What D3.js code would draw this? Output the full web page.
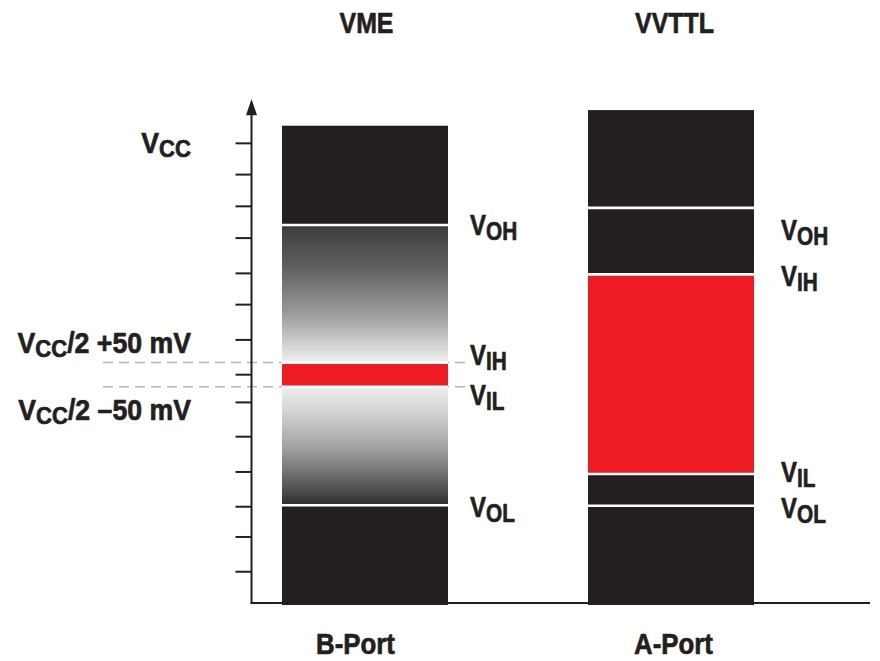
<!DOCTYPE html>
<html><head><meta charset="utf-8">
<script src="https://cdn.jsdelivr.net/npm/d3@7"></script>
<style>body{margin:0;background:#fff}svg{display:block}</style>
</head><body><svg id="c" width="880" height="661"></svg>
<script>
// ---- data ----
const ports = ["B-Port", "A-Port"];
const standards = ["VME", "VVTTL"];
const tickLevels = [91.3, 85.1, 78.8, 72.5, 65.5, 59.3, 52.3, 45.4, 39.9, 33.1, 26.1, 19.2, 13.2, 6.3];
const bSegments = [
  {lo: -0.4, hi: 19.4, kind: "solid"},
  {lo: 19.4, hi: 42.9, kind: "fadeDown"},
  {lo: 42.9, hi: 47.7, kind: "band"},
  {lo: 47.7, hi: 75.0, kind: "fadeUp"},
  {lo: 75.0, hi: 94.7, kind: "solid"}
];
const aSegments = [
  {lo: -0.4, hi: 19.3, kind: "solid"},
  {lo: 19.3, hi: 25.6, kind: "solid"},
  {lo: 25.6, hi: 65.2, kind: "band"},
  {lo: 65.2, hi: 78.4, kind: "solid"},
  {lo: 78.4, hi: 97.8, kind: "solid"}
];
const thresholdLevels = [47.7, 42.9];
const bLabels = [
  {sub: "OH", level: 73.0}, {sub: "IH", level: 47.2},
  {sub: "IL", level: 39.3}, {sub: "OL", level: 17.1}
];
const aLabels = [
  {sub: "OH", level: 72.0}, {sub: "IH", level: 62.8},
  {sub: "IL", level: 24.0}, {sub: "OL", level: 16.9}
];
const leftLabels = [
  {sub: "CC", rest: "", level: 89.3},
  {sub: "CC", rest: "/2 +50 mV", level: 49.6},
  {sub: "CC", rest: "/2 \u201350 mV", level: 36.3}
];

// ---- styles ----
const INK = "#231f20", RED = "#ed1c24";
const FONT = "'Liberation Sans',Arial,sans-serif";

const svg = d3.select("#c");
const y = d3.scaleLinear().domain([0, 100]).range([603, 99]);
const x = d3.scaleBand().domain(ports).range([282, 754]).paddingInner(0.4575).paddingOuter(0);

const defs = svg.append("defs");
function grad(id, stops) {
  const g = defs.append("linearGradient").attr("id", id)
    .attr("x1", 0).attr("y1", 0).attr("x2", 0).attr("y2", 1);
  stops.forEach(s => g.append("stop").attr("offset", s[0]).attr("stop-color", s[1]));
}
grad("fadeUp", [[0, "#3d3d3e"], [0.3, "#5e5e60"], [0.65, "#9c9c9e"], [0.88, "#d4d4d5"], [1, "#f2f2f2"]]);
grad("fadeDown", [[0, "#eeeeee"], [0.25, "#cdcdce"], [0.5, "#a4a4a6"], [0.75, "#6c6c6e"], [1, "#2e2e2f"]]);
const fills = {solid: INK, band: RED, fadeUp: "url(#fadeUp)", fadeDown: "url(#fadeDown)"};

// condensed text helper: a group translated to (tx, ty) and squeezed horizontally
function ctext(tx, ty, sx, anchor) {
  return svg.append("g").attr("transform", `translate(${tx},${ty}) scale(${sx},1)`)
    .append("text").attr("text-anchor", anchor)
    .attr("font-family", FONT).attr("font-weight", "bold").attr("fill", INK)
    .attr("stroke", INK).attr("stroke-width", 0.7).attr("stroke-linejoin", "round");
}

// dashed threshold lines (behind bars)
svg.append("g").selectAll("line").data(thresholdLevels).join("line")
  .attr("x1", 103).attr("x2", 468)
  .attr("y1", d => y(d)).attr("y2", d => y(d))
  .attr("stroke", "#b5b5b5").attr("stroke-width", 1.5).attr("stroke-dasharray", "10 6");

// axes
const yAxis = d3.axisLeft(y).tickValues(tickLevels).tickSize(16).tickSizeOuter(0).tickFormat("");
const ag = svg.append("g").attr("transform", "translate(251.5,0)").call(yAxis);
ag.select(".domain").attr("stroke", INK).attr("stroke-width", 2).attr("d", `M0,${y(0)}V${y(97)}`);
ag.selectAll(".tick line").attr("stroke", INK).attr("stroke-width", 2);
svg.append("path")
  .attr("d", `M251.5,${y(100)}L257,${y(96.8)}L246,${y(96.8)}Z`)
  .attr("fill", INK);
svg.append("line").attr("x1", 250.5).attr("x2", 870).attr("y1", y(0)).attr("y2", y(0))
  .attr("stroke", INK).attr("stroke-width", 2);

// bars
const portData = [
  {port: ports[0], segs: bSegments, labels: bLabels, title: standards[0], tdx: 1.5, pdx: -9.5, ldx: 22},
  {port: ports[1], segs: aSegments, labels: aLabels, title: standards[1], tdx: 3.5, pdx: 2.5, ldx: 27}
];
portData.forEach(p => {
  const g = svg.append("g");
  g.selectAll("rect").data(p.segs).join("rect")
    .attr("x", x(p.port)).attr("width", x.bandwidth())
    .attr("y", d => y(d.hi)).attr("height", d => y(d.lo) - y(d.hi))
    .attr("fill", d => fills[d.kind]);
  g.selectAll("line").data(p.segs.slice(1)).join("line")
    .attr("x1", x(p.port)).attr("x2", x(p.port) + x.bandwidth())
    .attr("y1", d => y(d.lo)).attr("y2", d => y(d.lo))
    .attr("stroke", "#fff").attr("stroke-width", 2.6);

  const cx = x(p.port) + x.bandwidth() / 2;
  ctext(cx + p.tdx, 33, 0.83, "middle").attr("font-size", 30).text(p.title);
  ctext(cx + p.pdx, 654, 0.89, "middle").attr("font-size", 29).text(p.port);

  const lx = x(p.port) + x.bandwidth() + p.ldx;
  p.labels.forEach(l => {
    const t = ctext(lx, y(l.level), 0.8, "start");
    t.append("tspan").attr("font-size", 30).text("V");
    t.append("tspan").attr("font-size", 26).attr("dy", 5).text(l.sub);
  });
});

// left labels (right-aligned)
leftLabels.forEach(l => {
  const t = ctext(191, y(l.level), 0.92, "end");
  t.append("tspan").attr("font-size", 29).text("V");
  t.append("tspan").attr("font-size", 24).attr("dy", 4).text(l.sub);
  if (l.rest) t.append("tspan").attr("font-size", 29).attr("dy", -4).text(l.rest);
});
</script></body></html>
